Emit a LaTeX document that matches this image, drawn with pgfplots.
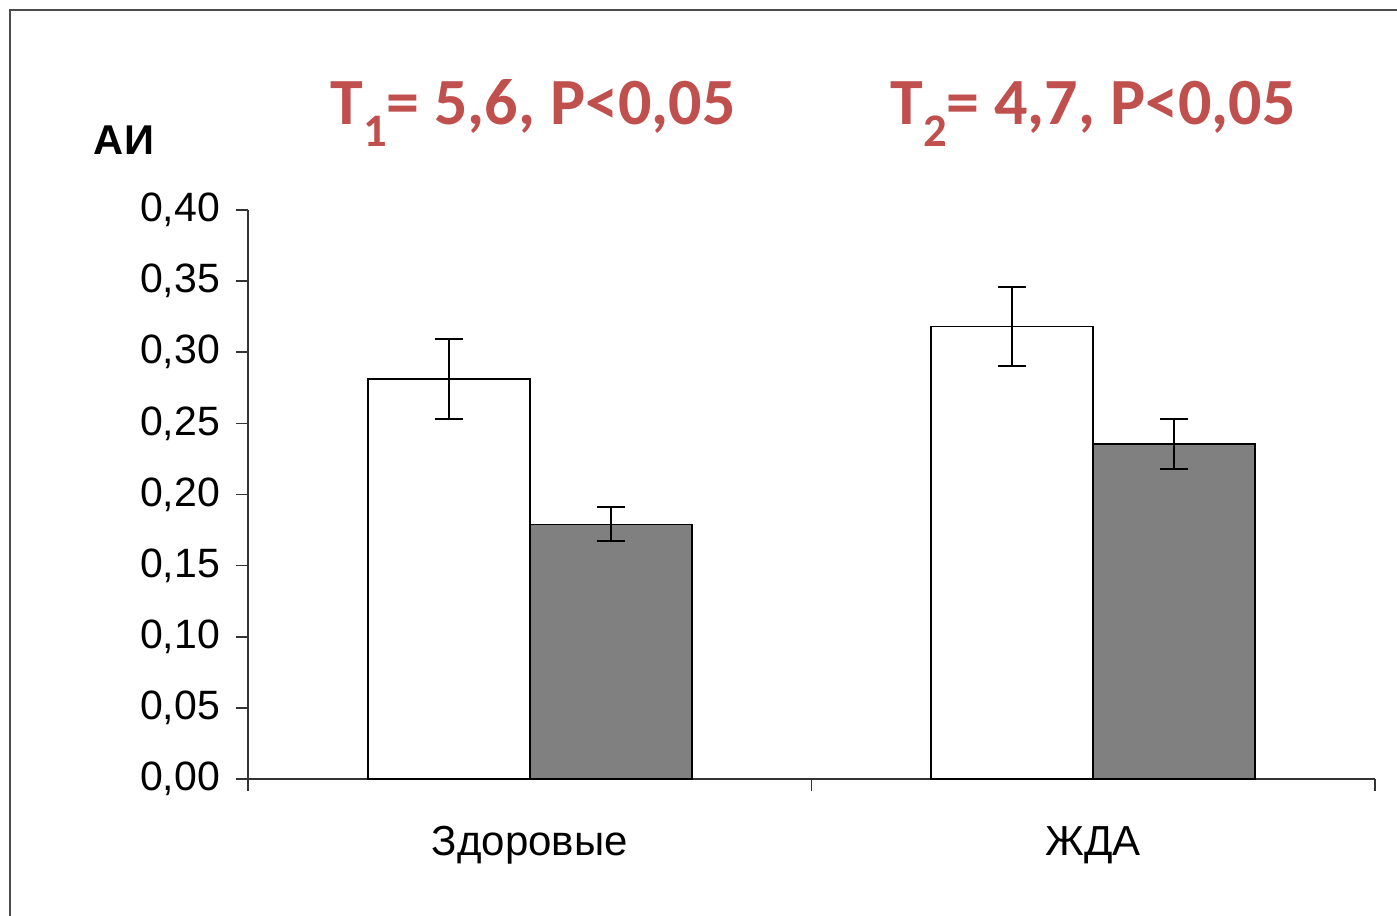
\documentclass[border=0pt]{standalone}
\usepackage{pgfplots}
\pgfplotsset{compat=1.18}
\usepackage{fontspec}
\setmainfont{Liberation Sans}
\newfontfamily\titlefont{Carlito}
\definecolor{tred}{HTML}{C0504D}
\definecolor{bargray}{HTML}{808080}
\begin{document}
\begin{tikzpicture}
\useasboundingbox (0,0) rectangle (419.1pt,274.8pt);
\begin{axis}[at={(74.4pt,41.1pt)}, anchor=south west, scale only axis,
  width=338.1pt, height=170.7pt,
  xmin=-0.5, xmax=1.5, ymin=0, ymax=0.4,
  ybar=0pt, bar width=0.2875,
  axis lines=left, axis line style={-, black!80, line width=0.5pt},
  tick align=outside,
  ytick={0,0.05,0.1,0.15,0.2,0.25,0.3,0.35,0.4},
  yticklabel style={font=\fontsize{12.3}{12.5}\selectfont, xshift=-1.3pt},
  /pgf/number format/.cd, fixed, fixed zerofill, precision=2, use comma, assume math mode=true,
  /pgfplots/.cd,
  xtick={0,1}, xticklabels={Здоровые,ЖДА},
  xticklabel style={font=\fontsize{12.6}{13}\selectfont, yshift=-7pt},
  minor xtick={-0.5,0.5,1.5},
  major x tick style={draw=none},
  minor x tick style={black!80, line width=0.5pt},
  y tick style={black!80, line width=0.5pt},
  major tick length=3.6pt, minor tick length=3.6pt,
  clip=false,
]
\addplot[fill=white, draw=black, line width=0.5pt,
  error bars/.cd, y dir=both, y explicit,
  error bar style={line width=0.6pt, black},
  error mark options={rotate=90, mark size=4.2pt, line width=0.6pt, black}]
  coordinates {(0,0.281) +- (0,0.028) (1,0.318) +- (0,0.028)};
\addplot[fill=bargray, draw=black, line width=0.5pt,
  error bars/.cd, y dir=both, y explicit,
  error bar style={line width=0.6pt, black},
  error mark options={rotate=90, mark size=4.2pt, line width=0.6pt, black}]
  coordinates {(0,0.179) +- (0,0.012) (1,0.2355) +- (0,0.0176)};
\end{axis}
\begin{scope}[x=0.3pt,y=-0.3pt,shift={(0pt,274.8pt)}]
\draw[line width=0.6pt, black!70] (10,916) -- (10,10) -- (1397,10);
\node[anchor=base, text=tred, font=\titlefont\bfseries\fontsize{19.8}{20}\selectfont] at (533,125)
  {T\raisebox{-0.33em}{\fontsize{14}{14}\selectfont 1}= 5,6, P<0,05};
\node[anchor=base, text=tred, font=\titlefont\bfseries\fontsize{19.8}{20}\selectfont] at (1093,125)
  {T\raisebox{-0.33em}{\fontsize{14}{14}\selectfont 2}= 4,7, P<0,05};
\node[anchor=base, font=\bfseries\fontsize{12.5}{12.5}\selectfont] at (124,155) {АИ};
\end{scope}
\end{tikzpicture}
\end{document}
